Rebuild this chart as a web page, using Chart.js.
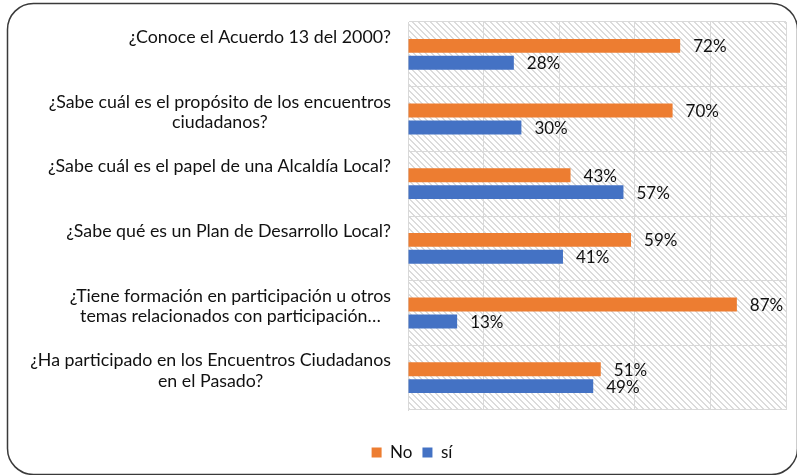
<!DOCTYPE html>
<html>
<head>
<meta charset="utf-8">
<script src="https://cdn.jsdelivr.net/npm/chart.js@4.4.1/dist/chart.umd.min.js"></script>
<style>
  html, body { margin: 0; padding: 0; background: #fff; }
  #wrap { width: 797px; height: 475px; position: relative; }
</style>
</head>
<body>
<div id="wrap"><canvas id="surveyChart" width="797" height="475"></canvas></div>
<script>
  // --- data ---
  const categories = [
    ["¿Conoce el Acuerdo 13 del 2000?"],
    ["¿Sabe cuál es el propósito de los encuentros", "ciudadanos?"],
    ["¿Sabe cuál es el papel de una Alcaldía Local?"],
    ["¿Sabe qué es un Plan de Desarrollo Local?"],
    ["¿Tiene formación en participación u otros", "temas relacionados con participación…"],
    ["¿Ha participado en los Encuentros Ciudadanos", "en el Pasado?"]
  ];
  const noValues = [72, 70, 43, 59, 87, 51];
  const siValues = [28, 30, 57, 41, 13, 49];
  const seriesNames = ["No", "sí"];

  const FONT = "Lato, 'Open Sans', sans-serif";
  const TEXT = "#111";

  // hatch pattern for the plot area ("\" stripes)
  function makeHatch() {
    const p = 6;
    const c = document.createElement("canvas");
    c.width = p; c.height = p;
    const g = c.getContext("2d");
    g.fillStyle = "#fff";
    g.fillRect(0, 0, p, p);
    g.fillStyle = "#dcdcdc";
    for (let i = 0; i < p; i++) {
      g.fillRect(i, i, 1, 1);
      g.fillRect((i + 1) % p, i, 1, 1);
    }
    return g.createPattern(c, "repeat");
  }

  // outer rounded frame + hatched plot background
  const backdrop = {
    id: "backdrop",
    beforeDraw(chart) {
      const { ctx, chartArea: a } = chart;
      ctx.save();
      ctx.fillStyle = "#fff";
      ctx.fillRect(0, 0, chart.width, chart.height);
      ctx.strokeStyle = "#3a3a3a";
      ctx.lineWidth = 1.5;
      ctx.beginPath();
      ctx.roundRect(7.5, 3.5, 790, 471, 26);
      ctx.stroke();
      ctx.fillStyle = makeHatch();
      ctx.fillRect(a.left, a.top, a.right - a.left, a.bottom - a.top);
      ctx.restore();
    }
  };

  // category labels: block right-aligned, lines centred, top-anchored
  const catLabels = {
    id: "catLabels",
    afterDraw(chart) {
      const { ctx } = chart;
      const y = chart.scales.y;
      const right = 391;
      ctx.save();
      ctx.font = "17.8px " + FONT;
      ctx.fillStyle = TEXT;
      ctx.textBaseline = "middle";
      ctx.textAlign = "center";
      categories.forEach((lines, i) => {
        const w = Math.max(...lines.map(l => ctx.measureText(l).width));
        const cx = right - w / 2;
        const y0 = y.getPixelForValue(i) - 17;
        lines.forEach((l, k) => ctx.fillText(l, cx, y0 + k * 20.5));
      });
      ctx.restore();
    }
  };

  // value labels at bar ends
  const valueLabels = {
    id: "valueLabels",
    afterDatasetsDraw(chart) {
      const { ctx } = chart;
      ctx.save();
      ctx.font = "17px " + FONT;
      ctx.fillStyle = TEXT;
      ctx.textBaseline = "middle";
      ctx.textAlign = "left";
      chart.data.datasets.forEach((ds, di) => {
        chart.getDatasetMeta(di).data.forEach((bar, i) => {
          ctx.fillText(ds.data[i] + "%", bar.x + 13, bar.y + 1);
        });
      });
      ctx.restore();
    }
  };

  new Chart(document.getElementById("surveyChart"), {
    type: "bar",
    data: {
      labels: categories,
      datasets: [
        { label: seriesNames[0], data: noValues, backgroundColor: "#ED7D31" },
        { label: seriesNames[1], data: siValues, backgroundColor: "#4472C4" }
      ]
    },
    options: {
      indexAxis: "y",
      responsive: false,
      animation: false,
      devicePixelRatio: 1,
      categoryPercentage: 0.525,
      barPercentage: 0.82,
      layout: { padding: { left: 38, right: 11, top: 22, bottom: 4 } },
      scales: {
        x: {
          min: 0,
          max: 100,
          ticks: { display: false, stepSize: 20 },
          grid: { color: "#d9d9d9", drawTicks: false },
          border: { display: false },
          afterFit(scale) { scale.height = 24; }
        },
        y: {
          ticks: { display: false },
          grid: { color: "#d9d9d9", drawTicks: false },
          border: { color: "#d9d9d9" },
          afterFit(scale) { scale.width = 370; }
        }
      },
      plugins: {
        legend: {
          position: "bottom",
          labels: {
            boxWidth: 10,
            boxHeight: 10,
            padding: 10,
            color: TEXT,
            font: { size: 17, family: FONT }
          }
        },
        tooltip: { enabled: false }
      }
    },
    plugins: [backdrop, catLabels, valueLabels]
  });
</script>
</body>
</html>
